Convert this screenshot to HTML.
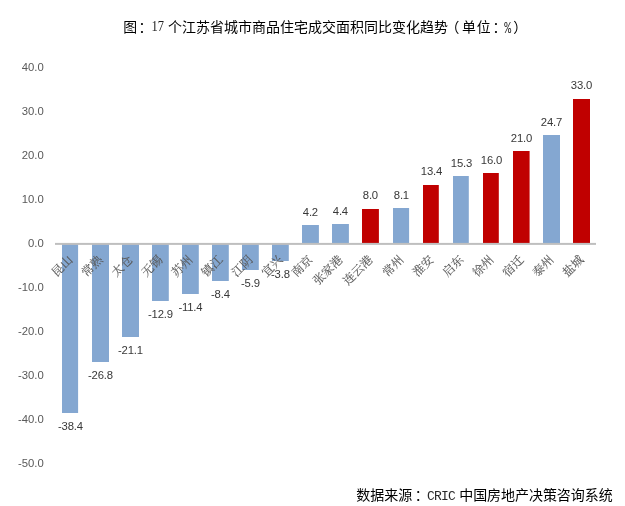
<!DOCTYPE html>
<html lang="zh-CN"><head><meta charset="utf-8"><title>chart</title>
<style>
html,body{margin:0;padding:0;background:#fff;}
body{width:625px;height:506px;overflow:hidden;position:relative;}
svg{position:absolute;left:0;top:0;display:block;}
.ttl{font-family:"Liberation Serif","Noto Sans CJK SC",sans-serif;font-size:13.9px;fill:#000;}
.lat{font-family:"Liberation Serif",serif;font-size:14px;fill:#1a1a1a;}
.mono{font-family:"Liberation Mono",monospace;fill:#2a2a2a;}
.ax{font-family:"Liberation Sans",sans-serif;font-size:11.3px;fill:#595959;text-anchor:end;}
.v{font-family:"Liberation Sans",sans-serif;font-size:11.3px;fill:#383838;text-anchor:middle;letter-spacing:-0.2px;}
.c{font-family:"Liberation Serif","Noto Serif CJK SC",serif;font-size:12px;fill:#595959;stroke:#595959;stroke-width:0.12px;text-anchor:end;}
</style></head><body>
<svg width="625" height="506" viewBox="0 0 625 506">
<rect width="625" height="506" fill="#fff"/>
<text class="ttl" x="123.2" y="32.4"><tspan x="123.2" y="32.4">图</tspan><tspan x="138.4" y="32.4">：</tspan><tspan class="lat" style="font-size:14.2px" x="151.4" y="31.2" textLength="15.6" lengthAdjust="spacingAndGlyphs">17 </tspan><tspan style="font-size:14px" x="168.0" y="32.4">个江苏省城市商品住宅成交面积同比变化趋势</tspan><tspan x="445.6" y="32.4">（</tspan><tspan x="462.0" y="32.4" letter-spacing="0.9">单位</tspan><tspan x="492.5" y="32.4">：</tspan><tspan class="mono" style="font-size:17px" x="504.2" y="32.7" textLength="6.94" lengthAdjust="spacingAndGlyphs">%</tspan><tspan x="513.2" y="32.4">）</tspan></text>
<rect x="62" y="244" width="16.1" height="169" fill="#84a7d1"/>
<rect x="92" y="244" width="17" height="118" fill="#84a7d1"/>
<rect x="122" y="244" width="17" height="93" fill="#84a7d1"/>
<rect x="152" y="244" width="16.8" height="57" fill="#84a7d1"/>
<rect x="182" y="244" width="16.8" height="50" fill="#84a7d1"/>
<rect x="212" y="244" width="16.8" height="37" fill="#84a7d1"/>
<rect x="242" y="244" width="16.8" height="26" fill="#84a7d1"/>
<rect x="272" y="244" width="16.8" height="17" fill="#84a7d1"/>
<rect x="302" y="225" width="16.9" height="19" fill="#84a7d1"/>
<rect x="332" y="224" width="16.9" height="20" fill="#84a7d1"/>
<rect x="362" y="209" width="16.9" height="35" fill="#c00000"/>
<rect x="393" y="208" width="16.1" height="36" fill="#84a7d1"/>
<rect x="423" y="185" width="15.8" height="59" fill="#c00000"/>
<rect x="453" y="176" width="15.8" height="68" fill="#84a7d1"/>
<rect x="483" y="173" width="15.8" height="71" fill="#c00000"/>
<rect x="513" y="151" width="16.6" height="93" fill="#c00000"/>
<rect x="543" y="135" width="17" height="109" fill="#84a7d1"/>
<rect x="573" y="99" width="17" height="145" fill="#c00000"/>
<rect x="55.0" y="242.9" width="541.0" height="2" fill="#bfbfbf"/>
<text class="ax" x="43.7" y="466.7">-50.0</text>
<text class="ax" x="43.7" y="422.7">-40.0</text>
<text class="ax" x="43.7" y="378.7">-30.0</text>
<text class="ax" x="43.7" y="334.7">-20.0</text>
<text class="ax" x="43.7" y="290.7">-10.0</text>
<text class="ax" x="43.7" y="246.7">0.0</text>
<text class="ax" x="43.7" y="202.7">10.0</text>
<text class="ax" x="43.7" y="158.7">20.0</text>
<text class="ax" x="43.7" y="114.7">30.0</text>
<text class="ax" x="43.7" y="70.7">40.0</text>
<text class="v" x="70.40" y="429.9">-38.4</text>
<text class="v" x="100.40" y="378.9">-26.8</text>
<text class="v" x="130.40" y="353.9">-21.1</text>
<text class="v" x="160.40" y="317.9">-12.9</text>
<text class="v" x="190.40" y="310.9">-11.4</text>
<text class="v" x="220.40" y="297.9">-8.4</text>
<text class="v" x="250.40" y="286.9">-5.9</text>
<text class="v" x="280.40" y="277.9">-3.8</text>
<text class="v" x="310.40" y="215.8">4.2</text>
<text class="v" x="340.40" y="214.9">4.4</text>
<text class="v" x="370.40" y="199.1">8.0</text>
<text class="v" x="401.40" y="198.7">8.1</text>
<text class="v" x="431.40" y="175.3">13.4</text>
<text class="v" x="461.40" y="167.0">15.3</text>
<text class="v" x="491.40" y="163.9">16.0</text>
<text class="v" x="521.40" y="141.9">21.0</text>
<text class="v" x="551.40" y="125.6">24.7</text>
<text class="v" x="581.40" y="89.1">33.0</text>
<text class="c" transform="translate(73.40,260.40) rotate(-45)">昆山</text>
<text class="c" transform="translate(103.40,260.40) rotate(-45)">常熟</text>
<text class="c" transform="translate(133.40,260.40) rotate(-45)">太仓</text>
<text class="c" transform="translate(163.40,260.40) rotate(-45)">无锡</text>
<text class="c" transform="translate(193.40,260.40) rotate(-45)">苏州</text>
<text class="c" transform="translate(223.40,260.40) rotate(-45)">镇江</text>
<text class="c" transform="translate(253.40,260.40) rotate(-45)">江阴</text>
<text class="c" transform="translate(283.40,260.40) rotate(-45)">宜兴</text>
<text class="c" transform="translate(313.40,260.40) rotate(-45)">南京</text>
<text class="c" transform="translate(343.40,260.40) rotate(-45)">张家港</text>
<text class="c" transform="translate(373.40,260.40) rotate(-45)">连云港</text>
<text class="c" transform="translate(404.40,260.40) rotate(-45)">常州</text>
<text class="c" transform="translate(434.40,260.40) rotate(-45)">淮安</text>
<text class="c" transform="translate(464.40,260.40) rotate(-45)">启东</text>
<text class="c" transform="translate(494.40,260.40) rotate(-45)">徐州</text>
<text class="c" transform="translate(524.40,260.40) rotate(-45)">宿迁</text>
<text class="c" transform="translate(554.40,260.40) rotate(-45)">泰州</text>
<text class="c" transform="translate(584.40,260.40) rotate(-45)">盐城</text>
<text class="ttl" style="font-size:14px" x="356.2" y="500.2"><tspan x="356.2" y="500.2">数据来源</tspan><tspan x="414.8" y="500.2">：</tspan><tspan class="mono" style="font-size:13px" letter-spacing="-0.8" x="427.0" y="500.0">CRIC </tspan><tspan x="459.2" y="500.2" letter-spacing="-0.05">中国房地产决策咨询系统</tspan></text>
</svg></body></html>
